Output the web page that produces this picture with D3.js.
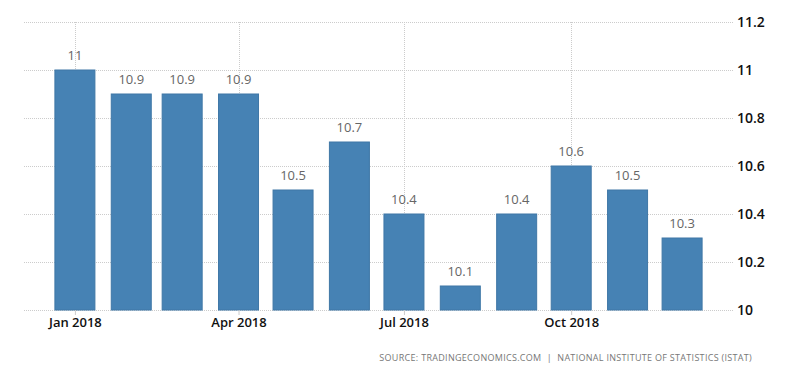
<!DOCTYPE html>
<html lang='en'>
<head>
  <meta charset='UTF-8'>
  <title>Chart</title>
  <style>
    body { margin: 0; background: #fff; }
    text { font-family: 'Open Sans', 'DejaVu Sans', sans-serif; }
  </style>
</head>
<body>
  <script src='https://cdn.jsdelivr.net/npm/d3@7'></script>
  <script>
// data
const months = ['2018-01', '2018-02', '2018-03', '2018-04', '2018-05', '2018-06',
                '2018-07', '2018-08', '2018-09', '2018-10', '2018-11', '2018-12'];
const values = [11, 10.9, 10.9, 10.9, 10.5, 10.7, 10.4, 10.1, 10.4, 10.6, 10.5, 10.3];
const yTicks = [10, 10.2, 10.4, 10.6, 10.8, 11, 11.2];
const xTickMonths = ['2018-01', '2018-04', '2018-07', '2018-10'];
const sourceText = 'SOURCE: TRADINGECONOMICS.COM  |  NATIONAL INSTITUTE OF STATISTICS (ISTAT)';

const width = 800, height = 373;
const plotLeft = 24, plotRight = 733, plotTop = 22, plotBottom = 310;

const parse = d3.timeParse('%Y-%m');
const data = months.map((m, i) => ({ date: parse(m), value: values[i] }));

const svg = d3.select('body').append('svg')
  .attr('width', width)
  .attr('height', height);

const x = d3.scaleTime()
  .domain([new Date(2017, 11, 4), new Date(2018, 11, 29)])
  .range([plotLeft, plotRight]);

const y = d3.scaleLinear()
  .domain([10, 11.2])
  .range([plotBottom, plotTop]);

// horizontal grid
svg.append('g')
  .selectAll('line')
  .data(yTicks)
  .enter().append('line')
  .attr('x1', plotLeft).attr('x2', plotRight)
  .attr('y1', d => Math.round(y(d)) + 0.5)
  .attr('y2', d => Math.round(y(d)) + 0.5)
  .attr('stroke', '#ccc')
  .attr('stroke-dasharray', '1,1');

// vertical grid
const xTickDates = xTickMonths.map(parse);
svg.append('g')
  .selectAll('line')
  .data(xTickDates)
  .enter().append('line')
  .attr('x1', d => Math.round(x(d)) + 0.5)
  .attr('x2', d => Math.round(x(d)) + 0.5)
  .attr('y1', plotTop).attr('y2', plotBottom)
  .attr('stroke', '#ccc')
  .attr('stroke-dasharray', '1,1');

// bars
const barW = 40;
svg.append('g')
  .selectAll('rect')
  .data(data)
  .enter().append('rect')
  .attr('x', d => x(d.date) - barW / 2)
  .attr('y', d => y(d.value))
  .attr('width', barW)
  .attr('height', d => plotBottom - y(d.value))
  .attr('fill', '#4682b4')
  .attr('stroke', '#3f77a6')
  .attr('stroke-width', 1);

// value labels
svg.append('g')
  .selectAll('text')
  .data(data)
  .enter().append('text')
  .attr('x', d => x(d.date))
  .attr('y', d => y(d.value) - 10)
  .attr('text-anchor', 'middle')
  .attr('fill', '#666')
  .attr('font-size', 13)
  .text(d => d.value);

// x axis
const xAxis = d3.axisBottom(x)
  .tickValues(xTickDates)
  .tickSize(5)
  .tickFormat(d3.timeFormat('%b %Y'));

const gx = svg.append('g')
  .attr('transform', 'translate(0,' + plotBottom + ')')
  .call(xAxis);
gx.select('.domain').remove();
gx.selectAll('line').attr('stroke', '#ccc');
gx.selectAll('text')
  .attr('fill', '#111')
  .attr('font-size', 13)
  .attr('font-weight', 600)
  .attr('dy', '1em')
  .attr('y', 4);

// y axis
const yAxis = d3.axisRight(y)
  .tickValues(yTicks)
  .tickSize(0)
  .tickPadding(4)
  .tickFormat(d => d3.format('~g')(d));

const gy = svg.append('g')
  .attr('transform', 'translate(' + plotRight + ',0)')
  .call(yAxis);
gy.select('.domain').remove();
gy.selectAll('text')
  .attr('fill', '#111')
  .attr('font-size', 14)
  .attr('font-weight', 600);

// source
svg.append('text')
  .attr('x', 752)
  .attr('y', 361)
  .attr('text-anchor', 'end')
  .attr('fill', '#777')
  .attr('font-size', 9)
  .attr('letter-spacing', 0.3)
  .attr('xml:space', 'preserve')
  .style('white-space', 'pre')
  .text(sourceText);
  </script>
</body>
</html>
